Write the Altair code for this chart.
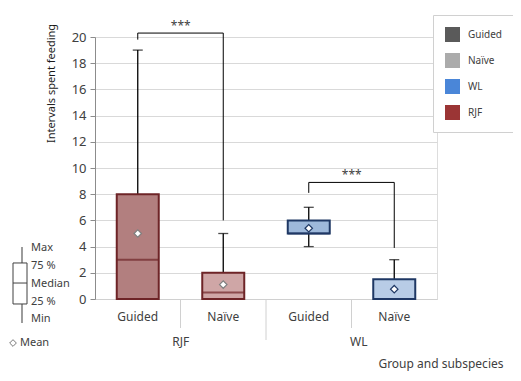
import altair as alt
import pandas as pd

# ---- data ----
cats = ["RJF Guided", "RJF Naïve", "WL Guided", "WL Naïve"]
groups = ["RJF", "RJF", "WL", "WL"]
mins = [0, 0, 4, 0]
q1s = [0, 0, 5, 0]
medians = [3, 0.5, 5, 0]
q3s = [8, 2, 6, 1.5]
maxs = [19, 5, 7, 3]
means = [5, 1.1, 5.4, 0.75]

fill_colors = ["#b27f7f", "#cfa6a6", "#9db8da", "#b8cce6"]
border_colors = ["#6e2427", "#6e2427", "#1f3864", "#1f3864"]
mean_strokes = ["#7f7f7f", "#7f7f7f", "#1f3864", "#1f3864"]

# significance brackets
br_left = ["RJF Guided", "WL Guided"]
br_right = ["RJF Naïve", "WL Naïve"]
br_top = [20.3, 8.9]
br_left_end = [19.8, 8.1]
br_right_end = [6.0, 3.9]
br_text = ["***", "***"]

# legend (right)
legend_labels = ["Guided", "Naïve", "WL", "RJF"]
legend_colors = ["#5a5a5a", "#ababab", "#4a86d8", "#9b3535"]

# box key (left)
key_labels = ["Max", "75 %", "Median", "25 %", "Min"]
key_label_y = [3.9, 2.55, 1.15, -0.2, -1.5]
key_min, key_q1, key_med, key_q3, key_max = -1.83, -0.38, 1.22, 2.75, 3.97
key_mean_y = -3.36

group_label_names = ["RJF", "WL"]
group_label_cats = ["RJF Guided", "WL Guided"]
group_label_dx = [43, 50]

FONT = "Noto Sans"

df = pd.DataFrame({
    "cat": cats, "group": groups, "min": mins, "q1": q1s, "med": medians,
    "q3": q3s, "max": maxs, "mean": means, "fill": fill_colors, "border": border_colors,
    "mstroke": mean_strokes,
})

xscale = alt.Scale(domain=cats, paddingInner=0, paddingOuter=0)
xaxis = alt.Axis(
    title="Group and subspecies", labelExpr="split(datum.label, ' ')[1]",
    ticks=False, domainColor="#d0d0d0", labelFontSize=12, labelColor="#404040",
    labelPadding=12, labelAngle=0, labelFont=FONT,
    titleFont=FONT, titleFontSize=12, titleFontWeight="normal", titleColor="#404040",
    titleAnchor="end", titleAlign="right", titleX=408, titleY=64, titleBaseline="middle",
)
yscale = alt.Scale(domain=[0, 20], nice=False)
yaxis = alt.Axis(
    title="Intervals spent feeding", values=list(range(0, 21, 2)),
    grid=True, gridColor="#d9d9d9", domainColor="#8c8c8c", tickColor="#8c8c8c",
    tickSize=5, labelFontSize=13, labelColor="#404040", labelFont=FONT, labelPadding=4,
    titleFont=FONT, titleFontSize=11, titleFontWeight="normal", titleColor="#1a1a1a",
    titleX=-44, titleY=46, titleAlign="center", titleBaseline="middle", titleAngle=-90,
)

X = alt.X("cat:N", scale=xscale, axis=xaxis)

def Y(field):
    return alt.Y(field, type="quantitative", scale=yscale, axis=yaxis)

base = alt.Chart(df)

whisk_up = base.mark_rule(color="black", strokeWidth=1.3).encode(x=X, y=Y("q3"), y2="max")
whisk_dn = base.mark_rule(color="black", strokeWidth=1.3).encode(x=X, y=Y("min"), y2="q1")
cap_up = base.mark_tick(color="black", size=10, thickness=1.3).encode(x=X, y=Y("max"))
cap_dn = base.mark_tick(color="black", size=10, thickness=1.3).encode(x=X, y=Y("min"))
boxes = base.mark_bar(size=42, strokeWidth=2).encode(
    x=X, y=Y("q1"), y2="q3",
    fill=alt.Fill("fill:N", scale=None), stroke=alt.Stroke("border:N", scale=None),
)
med_line = base.mark_tick(size=42, thickness=2).encode(
    x=X, y=Y("med"), color=alt.Color("border:N", scale=None)
)
mean_pts = base.mark_point(shape="diamond", filled=True, fill="white", size=55, strokeWidth=1.2, opacity=1).encode(
    x=X, y=Y("mean"), stroke=alt.Stroke("mstroke:N", scale=None)
)

# brackets
brdf = pd.DataFrame({"cat": br_left, "cat2": br_right, "top": br_top,
                     "lend": br_left_end, "txt": br_text})
brdf_r = pd.DataFrame({"cat": br_right, "top": br_top, "rend": br_right_end})
br_h = alt.Chart(brdf).mark_rule(color="black", strokeWidth=1).encode(x=X, x2="cat2:N", y=Y("top"))
br_l = alt.Chart(brdf).mark_rule(color="black", strokeWidth=1).encode(x=X, y=Y("top"), y2="lend")
br_r = alt.Chart(brdf_r).mark_rule(color="black", strokeWidth=1).encode(x=X, y=Y("top"), y2="rend")
br_t = alt.Chart(brdf).mark_text(dx=43, dy=-7, fontSize=12, font=FONT, color="#404040").encode(
    x=X, y=Y("top"), text="txt:N")

# category separators below the x axis
sep_short = alt.Chart(pd.DataFrame({"cat": ["RJF Naïve", "WL Naïve"]})).mark_rule(
    color="#d0d0d0", strokeWidth=1).encode(
    x=alt.X("cat:N", scale=xscale, axis=xaxis, bandPosition=0),
    y=alt.value(262), y2=alt.value(291))
sep_long = alt.Chart(pd.DataFrame({"cat": ["WL Guided"]})).mark_rule(
    color="#d0d0d0", strokeWidth=1).encode(
    x=alt.X("cat:N", scale=xscale, axis=xaxis, bandPosition=0),
    y=alt.value(262), y2=alt.value(303))
grp_lbl_rjf = alt.Chart(pd.DataFrame({"cat": group_label_cats[:1], "g": group_label_names[:1]})).mark_text(
    dx=group_label_dx[0], fontSize=12, font=FONT, color="#404040", baseline="middle").encode(
    x=X, y=alt.value(305), text="g:N")
grp_lbl_wl = alt.Chart(pd.DataFrame({"cat": group_label_cats[1:], "g": group_label_names[1:]})).mark_text(
    dx=group_label_dx[1], fontSize=12, font=FONT, color="#404040", baseline="middle").encode(
    x=X, y=alt.value(305), text="g:N")

# legend (dummy rect marks drawn off-screen)
leg = alt.Chart(pd.DataFrame({"lab": legend_labels})).mark_rect(opacity=1).encode(
    x=alt.value(-3000), x2=alt.value(-2990), y=alt.value(-3000), y2=alt.value(-2990),
    fill=alt.Fill("lab:N", scale=alt.Scale(domain=legend_labels, range=legend_colors),
                  legend=alt.Legend(
                      title=None, orient="none", legendX=338, legendY=-22,
                      symbolType="square", symbolSize=225, symbolStrokeWidth=0,
                      symbolOpacity=1,
                      labelFontSize=10, labelFont=FONT, labelColor="#404040",
                      labelOffset=8, rowPadding=11, padding=12,
                      strokeColor="#d0d0d0", fillColor="white")),
)

# box key on the left
keydf = pd.DataFrame({"lab": key_labels, "y": key_label_y})
kbox = pd.DataFrame({"lo": [key_q1], "hi": [key_q3], "mn": [key_min], "mx": [key_max], "md": [key_med]})
k_wh = alt.Chart(kbox).mark_rule(color="#595959", strokeWidth=1.2).encode(
    x=alt.value(-73), y=Y("mn"), y2="mx")
k_box = alt.Chart(kbox).mark_rect(fill="white", stroke="#404040", strokeWidth=1).encode(
    x=alt.value(-82), x2=alt.value(-68), y=Y("lo"), y2="hi")
k_md = alt.Chart(kbox).mark_rule(color="#404040", strokeWidth=1).encode(
    x=alt.value(-82), x2=alt.value(-68), y=Y("md"))
k_txt = alt.Chart(keydf).mark_text(align="left", baseline="middle", fontSize=11, font=FONT,
                                   color="#404040").encode(
    x=alt.value(-64), y=Y("y"), text="lab:N")
meandf = pd.DataFrame({"y": [key_mean_y], "t": ["Mean"]})
k_mean_pt = alt.Chart(meandf).mark_point(shape="diamond", filled=False, color="#404040", size=45,
                                         strokeWidth=1).encode(x=alt.value(-82), y=Y("y"))
k_mean_t = alt.Chart(meandf).mark_text(align="left", baseline="middle", fontSize=11, font=FONT,
                                       color="#404040").encode(x=alt.value(-75), y=Y("y"), text="t:N")

chart = alt.layer(
    whisk_up, whisk_dn, cap_up, cap_dn, boxes, med_line, mean_pts,
    br_h, br_l, br_r, br_t, sep_short, sep_long, grp_lbl_rjf, grp_lbl_wl, leg,
    k_wh, k_box, k_md, k_txt, k_mean_pt, k_mean_t,
).properties(
    width=342, height=262,
    padding={"left": 87, "top": 29, "right": 76, "bottom": 74},
    autosize=alt.AutoSizeParams(type="none"),
).configure_view(stroke=None).configure(background="white")

chart.save("out.html", embed_options={"renderer": "svg", "actions": False})
